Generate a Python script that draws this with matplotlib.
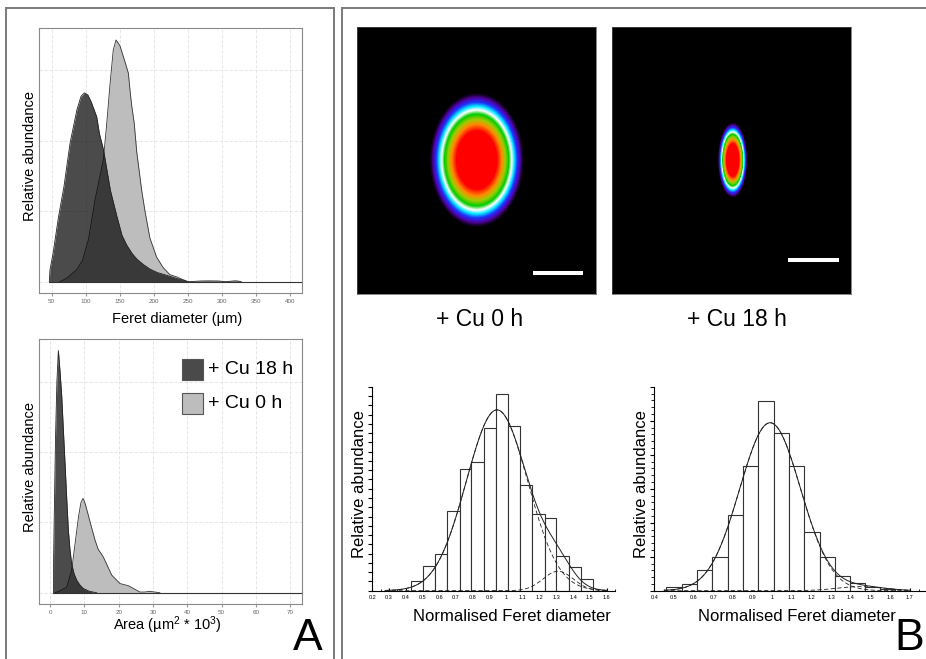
import numpy as np
import matplotlib
matplotlib.use("Agg")
import matplotlib.pyplot as plt
from matplotlib.colors import LinearSegmentedColormap
from matplotlib.patches import Rectangle
from matplotlib.lines import Line2D

plt.rcParams['font.family'] = ['Liberation Sans', 'DejaVu Sans']
plt.rcParams['mathtext.fontset'] = 'custom'
plt.rcParams['mathtext.rm'] = 'Liberation Sans'
plt.rcParams['mathtext.it'] = 'Liberation Sans'

# ---- panel A : density curves ----
feret_18h_x = [46.5, 47.5, 52, 60, 68, 77, 87, 93, 98, 103, 108, 116, 120, 126, 136, 145,
               153, 160, 168, 175, 185, 194, 205, 219, 232, 243, 250, 268, 280, 295, 305, 318, 323, 328]
feret_18h_y = [0, 0.17, 0.40, 0.92, 1.35, 1.97, 2.44, 2.63, 2.68, 2.65, 2.55, 2.34, 2.1, 1.87, 1.3, 0.95,
               0.66, 0.52, 0.4, 0.32, 0.24, 0.18, 0.13, 0.09, 0.05, 0.02, 0, 0.01, 0.012, 0.01, 0, 0.012, 0.01, 0]
feret_0h_x = [62, 72, 86.6, 95, 103.7, 113.5, 125.7, 130.3, 135.5, 140.3, 144.3, 150, 157.5, 162.4,
              165, 167.3, 171, 174.6, 181.9, 186.8, 194, 203.8, 213.5, 223.3, 233, 240, 250]
feret_0h_y = [0, 0.05, 0.17, 0.3, 0.59, 1.16, 1.73, 2.2, 2.8, 3.29, 3.43, 3.35, 3.12, 2.96,
              2.7, 2.5, 2.25, 1.85, 1.3, 1.0, 0.62, 0.35, 0.2, 0.1, 0.07, 0.04, 0]

area_18h_x = [1.0, 1.05, 1.2, 1.6, 2.0, 2.43, 2.9, 3.4, 3.9, 4.37, 4.9, 5.34, 5.8, 6.3, 7.0, 7.76, 8.7, 9.7, 11.5, 13.6]
area_18h_y = [0, 0.5, 1.0, 2.2, 3.0, 3.44, 3.15, 2.80, 2.3, 1.84, 1.3, 0.89, 0.62, 0.41, 0.27, 0.18, 0.11, 0.06, 0.02, 0]
area_0h_x = [1.5, 3, 4.86, 6.3, 7.3, 8.3, 9.0, 9.6, 10.0, 10.5, 11.75, 13.1, 14.0, 15.5, 17.98,
             20.4, 22.8, 24.3, 26.2, 27.5, 29.1, 30.5, 32]
area_0h_y = [0, 0.03, 0.08, 0.32, 0.70, 1.08, 1.28, 1.34, 1.3, 1.22, 0.99, 0.75, 0.62, 0.51, 0.25,
             0.13, 0.10, 0.06, 0.01, 0.01, 0.02, 0.01, 0]

feret_ticks = [50, 100, 150, 200, 250, 300, 350, 400]
area_ticks = [0, 10, 20, 30, 40, 50, 60, 70]
legend_labels = ['+ Cu 18 h', '+ Cu 0 h']

# ---- panel B : mean shape maps (ellipse semi-axes in px) ----
shape_labels = ['+ Cu 0 h', '+ Cu 18 h']
shape_semi_x = [35, 11]
shape_semi_y = [50, 28]
shape_center = [(119.7, 133), (120.7, 133)]

# ---- panel B : histograms ----
hist0_edges = [0.431, 0.504, 0.575, 0.648, 0.721, 0.792, 0.865, 0.938, 1.012, 1.085,
               1.156, 1.229, 1.300, 1.373, 1.446, 1.519]
hist0_counts = [1.0, 2.66, 3.92, 8.6, 13.1, 13.9, 17.5, 21.2, 17.8, 11.4, 8.24, 7.8, 3.74, 2.52, 1.29]
hist0_fit_mean = [0.945, 1.31]
hist0_fit_sd = [0.183, 0.09]
hist0_fit_amp = [19.5, 2.1]
hist0_ticks = [0.2, 0.3, 0.4, 0.5, 0.6, 0.7, 0.8, 0.9, 1.0, 1.1, 1.2, 1.3, 1.4, 1.5, 1.6]
hist0_ticklabels = ['0.2', '0.3', '0.4', '0.5', '0.6', '0.7', '0.8', '0.9', '1',
                    '1.1', '1.2', '1.3', '1.4', '1.5', '1.6']

hist18_edges = [0.459, 0.539, 0.616, 0.696, 0.774, 0.853, 0.929, 1.009, 1.086, 1.164,
                1.242, 1.318, 1.397, 1.474, 1.550, 1.627]
hist18_counts = [0.49, 0.93, 2.99, 4.95, 11.2, 18.3, 27.9, 23.2, 18.4, 8.7, 4.9, 2.2, 1.18, 0.59, 0.29]
hist18_fit_mean = [0.99, 1.45]
hist18_fit_sd = [0.155, 0.12]
hist18_fit_amp = [24.7, 0.6]
hist18_ticks = [0.4, 0.5, 0.6, 0.7, 0.8, 0.9, 1.0, 1.1, 1.2, 1.3, 1.4, 1.5, 1.6, 1.7, 1.8]
hist18_ticklabels = ['0.4', '0.5', '0.6', '0.7', '0.8', '0.9', '1', '1.1', '1.2',
                     '1.3', '1.4', '1.5', '1.6', '1.7', '']

W, H = 926, 659
fig = plt.figure(figsize=(W / 100, H / 100), dpi=100)


def box(l, t, r, b):
    return [l / W, 1 - b / H, (r - l) / W, (b - t) / H]


def fx(px):
    return px / W


def fy(py):
    return 1 - py / H


# panel frames
frame_kw = dict(transform=fig.transFigure, color='#7a7a7a', lw=1.4)
for xs, ys in [([6, 6], [8, 659]), ([6, 334], [8, 8]), ([334, 334], [8, 659]),
               ([341.7, 341.7], [8, 659]), ([341.7, 926], [8, 8])]:
    fig.add_artist(Line2D([fx(v) for v in xs], [fy(v) for v in ys], **frame_kw))

light = '#bdbdbd'
dark = '#090909'


def density_axes(ax, xlim, ticks, xa, ya, xb, yb):
    ax.set_xlim(*xlim)
    ax.set_ylim(-0.16, 3.6)
    ax.set_xticks(ticks)
    ax.set_yticks([0, 1, 2, 3])
    ax.set_yticklabels([])
    ax.grid(True, color='#e2e2e2', linestyle=(0, (4, 2)), lw=0.6)
    ax.set_axisbelow(True)
    ax.tick_params(axis='x', length=2, color='#999999', labelsize=4.5, labelcolor='#666666', pad=2)
    ax.tick_params(axis='y', length=0)
    for s in ax.spines.values():
        s.set_color('#8a8a8a')
        s.set_linewidth(0.8)
    ax.fill_between(xa, ya, 0, color=light, lw=0, zorder=2)
    ax.plot(xa, ya, color='#333333', lw=0.6, zorder=3)
    ax.fill_between(xb, yb, 0, color=dark, alpha=0.735, lw=0, zorder=4)
    ax.plot(xb, yb, color='#222222', lw=0.6, zorder=5)
    ax.plot([xb[0], xlim[1]], [0, 0], color='#333333', lw=0.8, zorder=6)


ax1 = fig.add_axes(box(39, 28, 302, 293))
density_axes(ax1, (31.4, 417), feret_ticks, feret_0h_x, feret_0h_y, feret_18h_x, feret_18h_y)
fig.text(fx(30), fy(156), 'Relative abundance', rotation=90, ha='center', va='center', fontsize=10.5)
fig.text(fx(177), fy(319), 'Feret diameter (µm)', ha='center', va='center', fontsize=10.5)

ax2 = fig.add_axes(box(38.7, 339.3, 302, 604))
density_axes(ax2, (-3.3, 73.4), area_ticks, area_0h_x, area_0h_y, area_18h_x, area_18h_y)
fig.text(fx(30), fy(466.7), 'Relative abundance', rotation=90, ha='center', va='center', fontsize=10.5)
fig.text(fx(167.5), fy(625), 'Area (µm$^{2}$ * 10$^{3}$)', ha='center', va='center', fontsize=10.5)

# legend of panel A
for (top, col, lab) in [(359.3, '#4a4a4a', legend_labels[0]), (393.3, light, legend_labels[1])]:
    fig.add_artist(Rectangle((fx(181.7), fy(top + 20.5)), 21.6 / W, 20.5 / H,
                             transform=fig.transFigure, facecolor=col, edgecolor='#555555', lw=0.8))
    fig.text(fx(208), fy(top + 10.2), lab, ha='left', va='center', fontsize=14)

fig.text(fx(293), fy(658.5), 'A', ha='left', va='bottom', fontsize=32)
fig.text(fx(894), fy(658.5), 'B', ha='left', va='bottom', fontsize=32)

# shape maps
cmap = LinearSegmentedColormap.from_list('shape', [
    (0.0, '#000000'), (0.035, '#1c0035'), (0.074, '#5000a0'), (0.141, '#2030ff'),
    (0.2, '#00e5ff'), (0.259, '#ffffff'), (0.319, '#00cc00'), (0.393, '#9acd00'),
    (0.467, '#ff8c00'), (0.57, '#ff0000'), (1.0, '#ff0000')])

nx, ny = 239, 267
gx, gy = np.meshgrid(np.arange(nx) + 0.5, np.arange(ny) + 0.5)
img_boxes = [box(357, 27, 596, 294), box(612.3, 27, 851, 294)]
bars = [((175.7, 226.3), 245.7), ((176, 226.7), 233)]
label_x = [480, 736.7]
for i in range(2):
    ax = fig.add_axes(img_boxes[i])
    cx, cy = shape_center[i]
    r = np.sqrt(((gx - cx) / shape_semi_x[i]) ** 2 + ((gy - cy) / shape_semi_y[i]) ** 2)
    v = np.clip(1 - r / 1.35, 0, 1)
    ax.imshow(v, cmap=cmap, vmin=0, vmax=1, extent=(0, nx, ny, 0),
              aspect='auto', interpolation='bilinear')
    ax.plot(bars[i][0], [bars[i][1]] * 2, color='white', lw=2.9, solid_capstyle='butt')
    ax.set_xlim(0, nx)
    ax.set_ylim(ny, 0)
    ax.set_xticks([])
    ax.set_yticks([])
    for s in ax.spines.values():
        s.set_color('#555555')
        s.set_linewidth(0.5)
    fig.text(fx(label_x[i]), fy(320), shape_labels[i], ha='center', va='center', fontsize=16.5)


def hist_axes(rect, edges, counts, mean, sd, amp, ticks, ticklabels, xlim, ylim, fit_range,
              major, ylab_x, xlab_x):
    ax = fig.add_axes(rect)
    edges = np.array(edges)
    ax.bar(edges[:-1], counts, width=np.diff(edges), align='edge',
           facecolor='white', edgecolor='#333333', lw=0.8, zorder=2)
    xs = np.linspace(fit_range[0], fit_range[1], 400)
    comps = [a * np.exp(-(xs - m) ** 2 / (2 * s ** 2)) for m, s, a in zip(mean, sd, amp)]
    for c in comps:
        ax.plot(xs, c, color='#222222', lw=0.6, dashes=(5, 3), zorder=3)
    ax.plot(xs, comps[0] + comps[1], color='#222222', lw=0.7, zorder=4)
    ax.set_xlim(*xlim)
    ax.set_ylim(*ylim)
    ax.set_xticks(ticks)
    ax.set_xticklabels(ticklabels)
    ax.set_xticks([t + 0.05 for t in ticks], minor=True)
    ax.set_yticks(np.arange(0, ylim[1] + 0.1, major))
    ax.set_yticks(np.arange(0, ylim[1] + 0.1, 1), minor=True)
    ax.set_yticklabels([])
    ax.tick_params(axis='x', which='major', direction='in', length=2.5, labelsize=4, pad=3)
    ax.tick_params(axis='x', which='minor', direction='in', length=1.5)
    ax.tick_params(axis='y', which='major', direction='out', length=3)
    ax.tick_params(axis='y', which='minor', direction='out', length=2)
    for s in ['top', 'right']:
        ax.spines[s].set_visible(False)
    for s in ['left', 'bottom']:
        ax.spines[s].set_linewidth(0.8)
    fig.text(fx(ylab_x), fy(484), 'Relative abundance', rotation=90, ha='center', va='center', fontsize=12)
    fig.text(fx(xlab_x), fy(616.7), 'Normalised Feret diameter', ha='center', va='center', fontsize=12)
    return ax


hist_axes(box(372.3, 386.7, 615, 590.7), hist0_edges, hist0_counts, hist0_fit_mean, hist0_fit_sd,
          hist0_fit_amp, hist0_ticks, hist0_ticklabels, (0.213, 1.614), (0, 22), (0.277, 1.604),
          1, 359, 511.7)
hist_axes(box(654.3, 386.7, 939, 590.7), hist18_edges, hist18_counts, hist18_fit_mean, hist18_fit_sd,
          hist18_fit_amp, hist18_ticks, hist18_ticklabels, (0.405, 1.85), (0, 30), (0.45, 1.7),
          5, 641.7, 796.7)

fig.savefig('out.png', dpi=100)
